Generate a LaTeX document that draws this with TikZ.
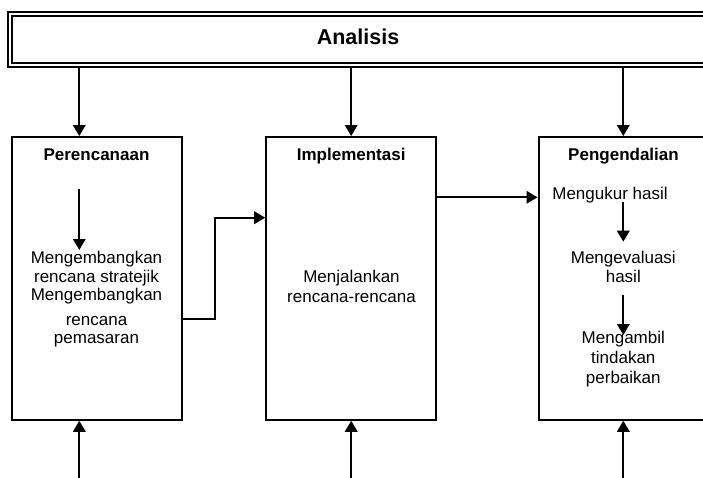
\documentclass[tikz,border=0pt]{standalone}
\usepackage{fontspec}
\setmainfont{Liberation Sans}
\usetikzlibrary{arrows.meta}
\begin{document}
\begin{tikzpicture}[x=1pt,y=1pt,
  stage/.style={draw, line width=2pt, minimum width=170pt, minimum height=282.7pt, inner sep=0pt},
  bandbox/.style={draw, line width=2pt, double, double distance=2.2pt,
    minimum width=695.6pt, minimum height=50.6pt, inner sep=0pt,
    text height=15.5pt, text depth=5.9pt,
    font=\bfseries\fontsize{21.5}{25}\selectfont},
  heading/.style={anchor=base, inner sep=0pt, font=\bfseries\fontsize{17}{20}\selectfont},
  body/.style={anchor=north, inner sep=0pt, align=center, font=\fontsize{17}{19.5}\selectfont},
  flow/.style={line width=1.8pt, -{Triangle[width=12.5pt,length=11pt]}}
]
\clip (0,0) rectangle (703,-478);

% analysis band across the top
\node[bandbox] (analisis) at (358,-39.5) {Analisis};

% the three stages
\node[stage] (plan) at (96.5,-278.4) {};
\node[stage] (impl) at (351.2,-278.4) {};
\node[stage] (ctrl) at (623.5,-278.4) {};

% stage headings
\node[heading] (planT) at (96.5,-161) {Perencanaan};
\node[heading] (implT) at (351.2,-161) {Implementasi};
\node[heading] (ctrlT) at (623.5,-161) {Pengendalian};

% stage contents
\node[body, font=\fontsize{17}{18.4}\selectfont] (planB) at (96.5,-251.1)
  {Mengembangkan\\rencana stratejik\\Mengembangkan\\[6.6pt]rencana\\pemasaran};
\node[body, font=\fontsize{17}{20}\selectfont] (implB) at (351.5,-269.5)
  {Menjalankan\\rencana-rencana};
\node[heading] (ctrl1) at (610,-200) {\mdseries Mengukur hasil};
\node[body, font=\fontsize{17}{19}\selectfont] (ctrl2) at (623.3,-250.5)
  {Mengevaluasi\\hasil};
\node[body, font=\fontsize{17}{20}\selectfont] (ctrl3) at (623.3,-331.1)
  {Mengambil\\tindakan\\perbaikan};

% vertical guide lines for the connectors
\coordinate (xa) at (79.3,0);
\coordinate (xb) at (351.2,0);
\coordinate (xc) at (623.3,0);
\coordinate (bottom) at (0,-478);

% from the analysis band into each stage
\draw[flow] (analisis.south -| xa) -- (plan.north -| xa);
\draw[flow] (analisis.south -| xb) -- (impl.north -| xb);
\draw[flow] (analisis.south -| xc) -- (ctrl.north -| xc);

% feedback entering each stage from below
\draw[flow] (bottom -| xa) -- (plan.south -| xa);
\draw[flow] (bottom -| xb) -- (impl.south -| xb);
\draw[flow] (bottom -| xc) -- (ctrl.south -| xc);

% steps inside the planning stage
\coordinate (p1) at (79.3,-189.3);
\coordinate (p2) at (79.3,-250);
\draw[flow] (p1) -- (p2);

% steps inside the control stage
\coordinate (c1) at (623.3,-201.7);
\coordinate (c2) at (623.3,-241.7);
\coordinate (c3) at (623.3,-295);
\coordinate (c4) at (623.3,-335);
\draw[flow] (c1) -- (c2);
\draw[flow] (c3) -- (c4);

% planning -> implementation -> control
\coordinate (k1) at (215,-319.3);
\coordinate (k2) at (215,-217.7);
\draw[line width=1.8pt, -{Triangle[width=12.5pt,length=11pt]}]
  (plan.east |- k1) -- (k1) -- (k2) -- (impl.west |- k2);
\coordinate (k3) at (0,-197.3);
\draw[flow] (impl.east |- k3) -- (ctrl.west |- k3);
\end{tikzpicture}
\end{document}
